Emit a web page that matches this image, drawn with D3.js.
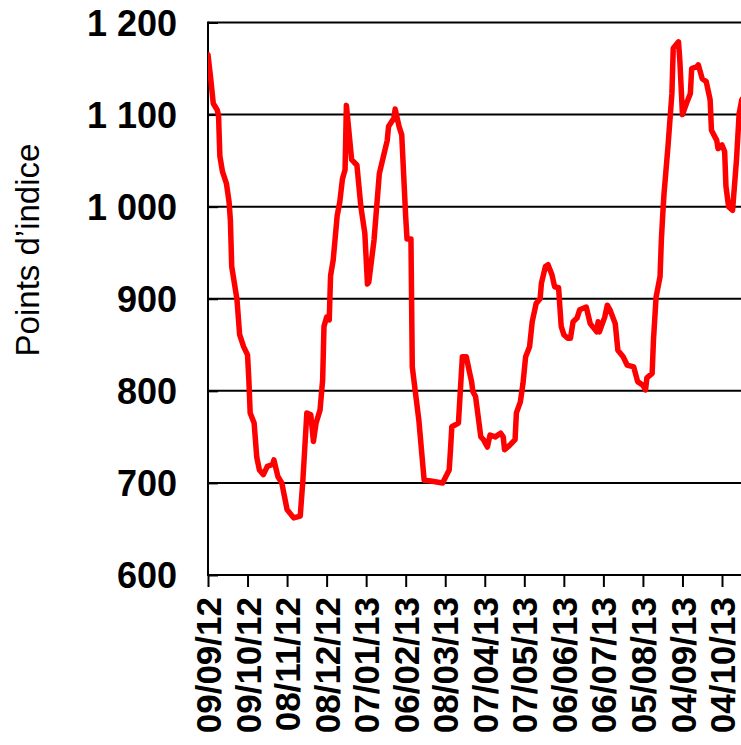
<!DOCTYPE html>
<html>
<head>
<meta charset="utf-8">
<script src="https://cdn.jsdelivr.net/npm/d3@7"></script>
<style>
  html, body { margin: 0; padding: 0; background: #fff; }
  svg { display: block; }
  text { font-family: "Liberation Sans", Arial, sans-serif; fill: #000; }
</style>
</head>
<body>
<svg id="chart" width="741" height="745"></svg>
<script>
// ---- Data ----
const dates = [
  "2012-09-09","2012-09-11","2012-09-13","2012-09-16","2012-09-17","2012-09-18","2012-09-20","2012-09-23","2012-09-25","2012-09-26",
  "2012-09-27","2012-10-01","2012-10-03","2012-10-06","2012-10-09","2012-10-10","2012-10-11","2012-10-14","2012-10-16","2012-10-18",
  "2012-10-21","2012-10-24","2012-10-28","2012-10-29","2012-11-01","2012-11-04","2012-11-08","2012-11-13","2012-11-18","2012-11-20",
  "2012-11-23","2012-11-26","2012-11-28","2012-11-30","2012-12-03","2012-12-05","2012-12-06","2012-12-08","2012-12-10","2012-12-11",
  "2012-12-13","2012-12-16","2012-12-18","2012-12-20","2012-12-22","2012-12-23","2012-12-27","2012-12-31","2013-01-03","2013-01-06",
  "2013-01-08","2013-01-09","2013-01-13","2013-01-17","2013-01-23","2013-01-24","2013-01-28","2013-01-29","2013-02-01","2013-02-03",
  "2013-02-06","2013-02-07","2013-02-10","2013-02-11","2013-02-16","2013-02-20","2013-02-25","2013-03-06","2013-03-11","2013-03-12",
  "2013-03-13","2013-03-18","2013-03-21","2013-03-24","2013-03-26","2013-03-28","2013-03-29","2013-03-31","2013-04-04","2013-04-06",
  "2013-04-09","2013-04-11","2013-04-15","2013-04-19","2013-04-21","2013-04-22","2013-04-26","2013-04-30","2013-05-01","2013-05-04",
  "2013-05-06","2013-05-08","2013-05-11","2013-05-13","2013-05-16","2013-05-19","2013-05-20","2013-05-23","2013-05-25","2013-05-28",
  "2013-05-30","2013-06-02","2013-06-04","2013-06-06","2013-06-09","2013-06-11","2013-06-13","2013-06-16","2013-06-18","2013-06-23",
  "2013-06-26","2013-07-01","2013-07-02","2013-07-03","2013-07-07","2013-07-09","2013-07-11","2013-07-15","2013-07-17","2013-07-21",
  "2013-07-24","2013-07-29","2013-08-01","2013-08-05","2013-08-07","2013-08-08","2013-08-12","2013-08-13","2013-08-15","2013-08-18",
  "2013-08-19","2013-08-20","2013-08-21","2013-08-24","2013-08-27","2013-08-28","2013-09-01","2013-09-02","2013-09-04","2013-09-07",
  "2013-09-10","2013-09-11","2013-09-15","2013-09-16","2013-09-19","2013-09-22","2013-09-25","2013-09-26","2013-09-30","2013-10-01",
  "2013-10-04","2013-10-06","2013-10-07","2013-10-09","2013-10-12","2013-10-15","2013-10-17","2013-10-19","2013-10-22"
];
const values = [
  1165,1140,1112,1105,1099,1055,1038,1025,1005,985,
  935,899,861,848,839,812,776,765,728,714,
  709,718,720,725,707,700,671,662,664,703,
  776,774,745,765,779,812,870,880,877,925,
  942,990,1005,1030,1040,1110,1051,1045,1000,971,
  916,918,964,1036,1072,1087,1096,1106,1087,1078,
  989,965,965,826,768,703,702,700,714,736,
  761,765,837,837,823,810,799,794,750,747,
  739,752,750,754,750,736,741,747,776,788,
  808,837,848,875,895,900,917,935,937,926,
  913,912,870,861,857,857,875,879,888,891,
  873,864,875,864,880,893,888,873,844,837,
  828,826,810,806,801,814,819,855,902,924,
  964,990,1014,1065,1123,1172,1179,1159,1100,1112,
  1123,1150,1152,1154,1139,1136,1116,1083,1072,1063,
  1067,1060,1022,1000,996,1051,1101,1116,1122
];
const xTickLabels = ["09/09/12","09/10/12","08/11/12","08/12/12","07/01/13","06/02/13","08/03/13",
                     "07/04/13","07/05/13","06/06/13","06/07/13","05/08/13","04/09/13","04/10/13"];
const yTicks = [600, 700, 800, 900, 1000, 1100, 1200];
const yTitle = "Points d\u2019indice";

// ---- Layout ----
const W = 741, H = 745;
const mLeft = 208, mTop = 22.5, mBottom = 575;
const parse = d3.timeParse("%Y-%m-%d");
const parseTick = d3.timeParse("%d/%m/%y");
const data = dates.map((d, i) => ({ date: parse(d), value: values[i] }));
const tickDates = xTickLabels.map(parseTick);

const x = d3.scaleTime()
  .domain([tickDates[0], tickDates[tickDates.length - 1]])
  .range([mLeft, 722]);
const y = d3.scaleLinear().domain([600, 1200]).range([mBottom, mTop]);

const svg = d3.select("#chart");

// gridlines
svg.append("g").selectAll("line")
  .data(yTicks.filter(v => v > 600))
  .join("line")
  .attr("x1", mLeft).attr("x2", W + 5)
  .attr("y1", d => y(d)).attr("y2", d => y(d))
  .attr("stroke", "#000").attr("stroke-width", 2);

// y axis
const yAxis = svg.append("g")
  .attr("transform", `translate(${mLeft},0)`)
  .call(d3.axisLeft(y).tickValues(yTicks).tickSize(-10).tickPadding(0)
    .tickFormat(d => d3.format(",")(d).replace(",", "\u00a0")));
yAxis.select(".domain").remove();
yAxis.selectAll(".tick line").attr("stroke", "#000").attr("stroke-width", 2);
yAxis.selectAll(".tick text")
  .attr("x", -31).attr("dy", "0.36em")
  .style("font-size", "36px").style("font-weight", "bold")
  .attr("fill", "#000");
svg.append("line")
  .attr("x1", mLeft).attr("x2", mLeft).attr("y1", mTop - 1).attr("y2", mBottom + 1)
  .attr("stroke", "#000").attr("stroke-width", 2);

// x axis
const xAxis = svg.append("g")
  .attr("transform", `translate(0,${mBottom})`)
  .call(d3.axisBottom(x).tickValues(tickDates).tickSize(12)
    .tickFormat((d, i) => xTickLabels[i]));
xAxis.select(".domain").remove();
xAxis.selectAll(".tick line").attr("stroke", "#000").attr("stroke-width", 2);
xAxis.selectAll(".tick text")
  .attr("transform", "rotate(-90)")
  .attr("text-anchor", "end")
  .attr("x", -22).attr("y", 0).attr("dy", "0.36em")
  .style("font-size", "35px").style("font-weight", "bold")
  .attr("fill", "#000");
svg.append("line")
  .attr("x1", mLeft - 1).attr("x2", W + 5).attr("y1", mBottom).attr("y2", mBottom)
  .attr("stroke", "#000").attr("stroke-width", 2);

// y title
svg.append("text")
  .attr("transform", `translate(39,250) rotate(-90)`)
  .attr("text-anchor", "middle")
  .style("font-size", "33px")
  .text(yTitle);

// line
svg.append("defs").append("clipPath").attr("id", "clip")
  .append("rect").attr("x", mLeft).attr("y", 0).attr("width", W).attr("height", mBottom);
svg.append("path")
  .datum(data)
  .attr("clip-path", "url(#clip)")
  .attr("fill", "none")
  .attr("stroke", "#ff0000")
  .attr("stroke-width", 5.5)
  .attr("stroke-linejoin", "round")
  .attr("stroke-linecap", "round")
  .attr("d", d3.line().x(d => x(d.date)).y(d => y(d.value)));
</script>
</body>
</html>
